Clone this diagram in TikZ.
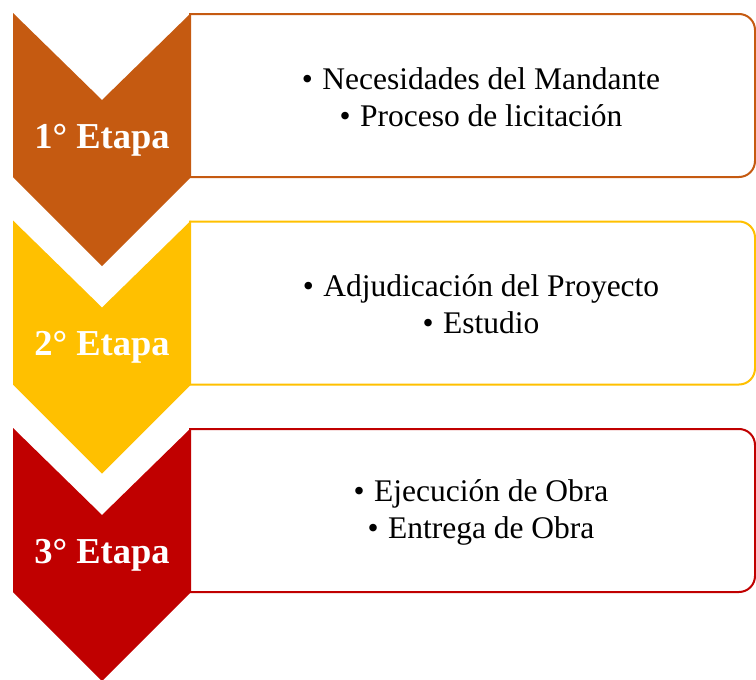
\documentclass[tikz,border=0pt]{standalone}
\usepackage{fontspec}
\setmainfont{Liberation Serif}

\definecolor{etapaA}{HTML}{C55A11}
\definecolor{etapaB}{HTML}{FFC000}
\definecolor{etapaC}{HTML}{C00000}

\tikzset{
  etapa/.style={text=white,inner sep=0pt,font=\fontsize{36.5}{40}\selectfont\bfseries},
  lista/.style={align=center,inner sep=0pt,font=\fontsize{31.5}{37}\selectfont},
  caja/.style={line width=2pt,rounded corners=16pt},
}
\newcommand{\punto}{\textbullet\hspace{0.3em}}

\begin{document}
\begin{tikzpicture}[x=1pt,y=-1pt]
  \useasboundingbox (0,0) rectangle (756,680) ;
  \foreach \i/\col/\txt in {%
      1/etapaA/{\punto Necesidades del Mandante\\\punto Proceso de licitación},%
      2/etapaB/{\punto Adjudicación del Proyecto\\\punto Estudio},%
      3/etapaC/{\punto Ejecución de Obra\\\punto Entrega de Obra}} {
    \pgfmathsetmacro{\t}{13+207.5*(\i-1)}
    % caja de texto
    \draw[caja,\col] (189,\t+1) -- (755,\t+1) -- (755,\t+164) -- (189,\t+164) ;
    % flecha de la etapa
    \fill[\col] (13,\t) -- (102,\t+87) -- (191,\t) -- (191,\t+164) %
      -- (102,\t+253) -- (13,\t+164) -- cycle ;
    \node[etapa] (etapa\i) at (102,\t+127) {\i° Etapa} ;
    \node[lista] (lista\i) at (481,\t+84) {\txt} ;
  }
\end{tikzpicture}
\end{document}
